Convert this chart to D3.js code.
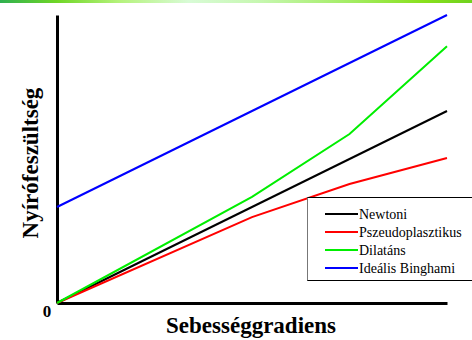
<!DOCTYPE html>
<html><head><meta charset="utf-8">
<script src="https://cdn.jsdelivr.net/npm/d3@7"></script>
<style>html,body{margin:0;padding:0;background:#fff;}svg{display:block;} text{font-family:"Liberation Serif", "Times New Roman", serif;}</style>
</head><body>
<svg id="c" width="472" height="340"></svg>
<script>
const xValues = [0, 2, 3, 4];
const newtoni = [0, 2, 3, 4];
const pszeudo = [0, 1.79, 2.48, 3.02];
const dilatans = [0, 2.21, 3.52, 5.35];
const bingham = [2, 4, 5, 6];
const seriesNames = ["Newtoni", "Pszeudoplasztikus", "Dilatáns", "Ideális Binghami"];
const seriesColors = ["#000000", "#ff0000", "#00ee00", "#0000ff"];
const xLabel = "Sebességgradiens";
const yLabel = "Nyírófeszültség";
const originLabel = "0";

const svg = d3.select("#c");
const defs = svg.append("defs");
const g = defs.append("linearGradient").attr("id","topbar");
[["0%","#2fb050"],["12%","#6fd626"],["25%","#b4f27a"],["40%","#d8fbd6"],["55%","#c6f7b0"],["75%","#a2ec60"],["90%","#88e01c"],["100%","#6fd21e"]]
  .forEach(s=>g.append("stop").attr("offset",s[0]).attr("stop-color",s[1]));
svg.append("rect").attr("x",0).attr("y",0).attr("width",472).attr("height",3).attr("fill","url(#topbar)");

const x = d3.scaleLinear().domain([0,4]).range([57,447]);
const y = d3.scaleLinear().domain([0,6]).range([303,15]);

const all = [newtoni, pszeudo, dilatans, bingham];
const line = d3.line().x((d,i)=>x(xValues[i])).y(d=>y(d));

// axes
const xAxis = d3.axisBottom(x).tickValues([]).tickSizeOuter(0);
const yAxis = d3.axisLeft(y).tickValues([]).tickSizeOuter(0);
svg.append("g").attr("transform","translate(0,303)").call(xAxis)
  .select(".domain").attr("stroke","#000").attr("stroke-width",3);
svg.append("g").attr("transform","translate(57,0)").call(yAxis)
  .select(".domain").attr("stroke","#000").attr("stroke-width",3);

// lines
all.forEach((s,i)=>{
  svg.append("path").datum(s).attr("d",line).attr("fill","none")
    .attr("stroke",seriesColors[i]).attr("stroke-width",2);
});

const serif = '"Liberation Serif", "Times New Roman", serif';
// legend
const lg = svg.append("g");
lg.append("rect").attr("x",307.5).attr("y",197.5).attr("width",170).attr("height",83)
  .attr("fill","#fff").attr("stroke","#000").attr("stroke-width",1);
lg.append("line").attr("x1",307.5).attr("x2",307.5).attr("y1",197.5).attr("y2",280.5).attr("stroke","#777").attr("stroke-width",1);
seriesNames.forEach((n,i)=>{
  const yy = 214 + i*18;
  lg.append("line").attr("x1",325).attr("x2",358).attr("y1",yy).attr("y2",yy)
    .attr("stroke",seriesColors[i]).attr("stroke-width",2);
  lg.append("text").attr("x",359).attr("y",yy+4.5).text(n)
    .style("font-family",serif).style("font-size","14px").attr("fill","#000");
});

// labels
svg.append("text").attr("x",251).attr("y",333).attr("text-anchor","middle")
  .style("font-family",serif).style("font-weight","bold").style("font-size","23px").text(xLabel);
svg.append("text").attr("transform","translate(38,163) rotate(-90)").attr("text-anchor","middle")
  .style("font-family",serif).style("font-weight","bold").style("font-size","23px").text(yLabel);
svg.append("text").attr("x",47).attr("y",317).attr("text-anchor","middle")
  .style("font-family",serif).style("font-weight","bold").style("font-size","17px").text(originLabel);
</script>
</body></html>
